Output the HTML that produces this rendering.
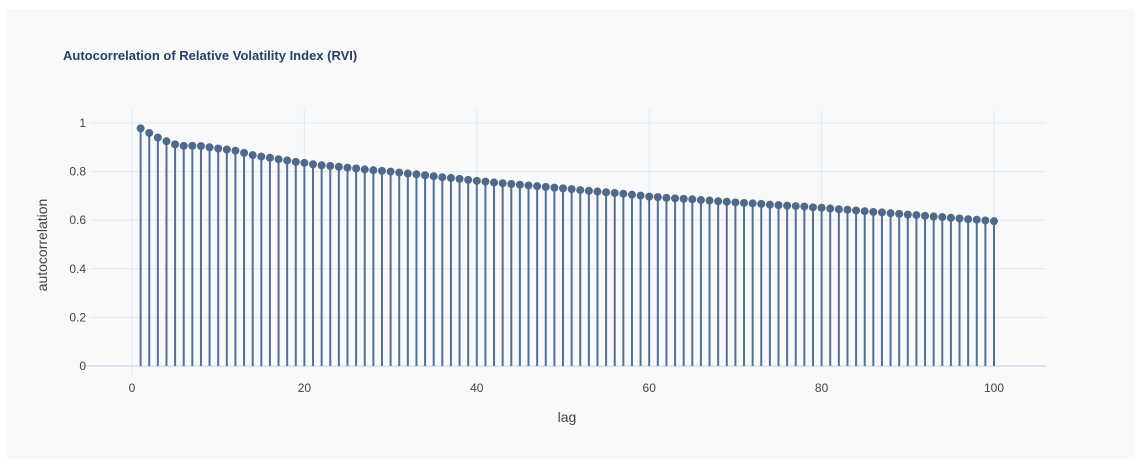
<!DOCTYPE html>
<html><head><meta charset="utf-8"><style>
body{margin:0;background:#fff;font-family:"Liberation Sans",Arial,sans-serif;}
svg text{font-family:"Liberation Sans",Arial,sans-serif;}
</style></head><body>
<svg id="chart" width="1142" height="470" xmlns="http://www.w3.org/2000/svg">
<rect x="7" y="9" width="1128" height="450" fill="#f7f9fb"/>
<text x="63" y="60" font-size="13" font-weight="bold" fill="#2a3f5f">Autocorrelation of Relative Volatility Index (RVI)</text>
<g id="grid"></g><g id="marks"></g><g id="axes"></g>
<text x="567" y="422" font-size="14" fill="#444" text-anchor="middle">lag</text>
<text transform="translate(47,245) rotate(-90)" font-size="14" fill="#444" text-anchor="middle">autocorrelation</text>
</svg>
<script>
const lags=[];for(let i=1;i<=100;i++)lags.push(i);
const acf=[0.978,0.959,0.940,0.925,0.912,0.906,0.906,0.905,0.900,0.895,
0.891,0.886,0.877,0.868,0.862,0.857,0.851,0.846,0.840,0.836,
0.830,0.826,0.823,0.820,0.816,0.813,0.809,0.806,0.803,0.800,
0.796,0.792,0.789,0.785,0.781,0.777,0.774,0.770,0.766,0.762,
0.759,0.755,0.752,0.749,0.746,0.743,0.740,0.737,0.734,0.731,
0.728,0.724,0.721,0.718,0.715,0.712,0.709,0.705,0.701,0.697,
0.695,0.692,0.690,0.688,0.686,0.683,0.681,0.678,0.676,0.673,
0.671,0.669,0.667,0.664,0.662,0.660,0.658,0.656,0.653,0.651,
0.648,0.645,0.643,0.640,0.637,0.634,0.632,0.629,0.626,0.623,
0.621,0.618,0.615,0.613,0.610,0.607,0.604,0.602,0.599,0.596];
const xTicks=[0,20,40,60,80,100];
const yTicks=[0,0.2,0.4,0.6,0.8,1];
const X=v=>132+v*8.62, Y=v=>366-v*243;
const NS="http://www.w3.org/2000/svg";
function mk(p,t,a){const e=document.createElementNS(NS,t);for(const k in a)e.setAttribute(k,a[k]);p.appendChild(e);return e;}
const grid=document.getElementById('grid'),marks=document.getElementById('marks'),axes=document.getElementById('axes');
xTicks.forEach(t=>{
 const l=mk(grid,'line',{x1:X(t),x2:X(t),y1:110,y2:t===0?377:366,stroke:'#e3e8ef','stroke-width':1});
 
 
 const tx=mk(axes,'text',{x:X(t),y:392,'font-size':12,fill:'#444','text-anchor':'middle'});tx.textContent=t;
 
 
});
yTicks.forEach(t=>{
 const l=mk(grid,'line',{x1:t===0?80:90,x2:1046,y1:Y(t),y2:Y(t),stroke:t===0?'#dde3ec':'#e3e8ef','stroke-width':t===0?2:1});
 
 
 const tx=mk(axes,'text',{x:86,y:Y(t)+4,'font-size':12,fill:'#444','text-anchor':'end'});tx.textContent=t;
 
 
});
lags.forEach((g,i)=>{
 const s=mk(marks,'line',{x1:X(g),x2:X(g),y1:Y(0),y2:Y(acf[i]),stroke:'#566f8e','stroke-width':2});
 
 
 const c=mk(marks,'circle',{cx:X(g),cy:Y(acf[i]),r:4,fill:'#50698a'});
 
 
});
</script>
</body></html>
